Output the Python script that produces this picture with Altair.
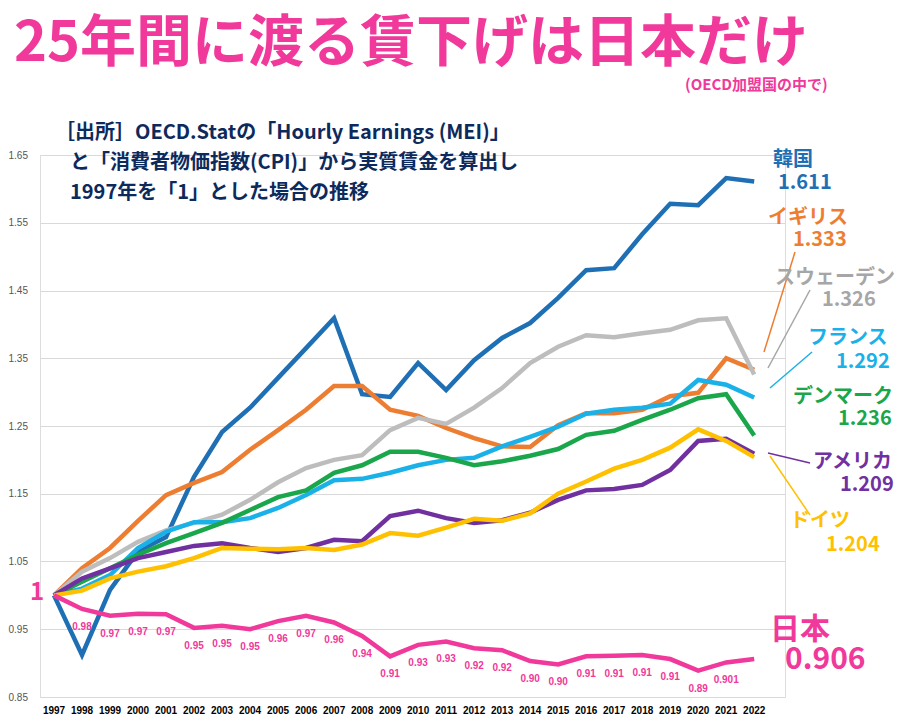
import altair as alt
import pandas as pd

years = list(range(1997, 2023))
korea = [1.0, 0.912, 1.008, 1.065, 1.086, 1.175, 1.241, 1.277, 1.321, 1.365, 1.409, 1.297, 1.293, 1.343,
         1.303, 1.347, 1.38, 1.402, 1.439, 1.48, 1.483, 1.533, 1.578, 1.576, 1.616, 1.611]
uk = [1.0, 1.04, 1.07, 1.11, 1.148, 1.166, 1.182, 1.215, 1.244, 1.274, 1.309, 1.309, 1.274, 1.265,
      1.247, 1.232, 1.22, 1.219, 1.251, 1.269, 1.269, 1.274, 1.294, 1.299, 1.35, 1.333]
sweden = [1.0, 1.035, 1.055, 1.079, 1.096, 1.107, 1.119, 1.141, 1.167, 1.188, 1.2, 1.207, 1.244, 1.262,
          1.253, 1.277, 1.306, 1.343, 1.367, 1.384, 1.381, 1.387, 1.392, 1.406, 1.409, 1.326]
france = [1.0, 1.01, 1.03, 1.07, 1.094, 1.108, 1.108, 1.114, 1.129, 1.148, 1.17, 1.172, 1.181, 1.192,
          1.2, 1.203, 1.22, 1.234, 1.249, 1.268, 1.274, 1.277, 1.283, 1.318, 1.311, 1.292]
denmark = [1.0, 1.02, 1.04, 1.06, 1.077, 1.092, 1.107, 1.126, 1.145, 1.155, 1.181, 1.192, 1.212, 1.212,
           1.203, 1.192, 1.198, 1.206, 1.216, 1.237, 1.243, 1.259, 1.274, 1.291, 1.297, 1.236]
usa = [1.0, 1.025, 1.04, 1.055, 1.064, 1.073, 1.077, 1.07, 1.064, 1.07, 1.082, 1.08, 1.117, 1.125,
       1.114, 1.107, 1.111, 1.122, 1.141, 1.155, 1.157, 1.163, 1.185, 1.228, 1.231, 1.209]
germany = [1.0, 1.007, 1.025, 1.035, 1.043, 1.055, 1.07, 1.069, 1.068, 1.07, 1.067, 1.075, 1.092, 1.088,
           1.1, 1.113, 1.11, 1.121, 1.15, 1.168, 1.187, 1.2, 1.218, 1.245, 1.228, 1.204]
japan = [1.0, 0.98, 0.97, 0.973, 0.972, 0.952, 0.955, 0.95, 0.962, 0.97, 0.96, 0.94, 0.91, 0.927,
         0.932, 0.922, 0.919, 0.903, 0.898, 0.91, 0.911, 0.912, 0.906, 0.889, 0.901, 0.906]
japan_labels = ["", "0.98", "0.97", "0.97", "0.97", "0.95", "0.95", "0.95", "0.96", "0.97", "0.96", "0.94",
                "0.91", "0.93", "0.93", "0.92", "0.92", "0.90", "0.90", "0.91", "0.91", "0.91", "0.91",
                "0.89", "0.901", ""]

series = ["韓国", "イギリス", "スウェーデン", "フランス", "デンマーク", "アメリカ", "ドイツ", "日本"]
colors = ["#1f6fb5", "#ed7d31", "#bdbdbd", "#1ab0e8", "#1aa64b", "#7030a0", "#ffc000", "#f0399a"]
values = [korea, uk, sweden, france, denmark, usa, germany, japan]

rows = []
for name, vals in zip(series, values):
    for y, v in zip(years, vals):
        rows.append({"year": y, "value": v, "country": name})
df = pd.DataFrame(rows)
jp = pd.DataFrame({"year": years, "value": japan, "label": japan_labels})
yr = pd.DataFrame({"year": years, "label": [str(y) for y in years]})

# right-side annotations (page pixel positions)
ann_text = ["韓国", "1.611", "イギリス", "1.333", "スウェーデン", "1.326", "フランス", "1.292",
            "デンマーク", "1.236", "アメリカ", "1.209", "ドイツ", "1.204"]
ann_x = [773, 778, 768, 793, 775, 822, 808, 836, 793, 838, 813, 840, 790, 826]
ann_y = [160, 183, 218, 240, 278, 300, 338, 362, 397, 419, 462, 485, 521, 545]
ann_col = ["#1f6fb5", "#1f6fb5", "#ed7d31", "#ed7d31", "#a6a6a6", "#a6a6a6", "#1ab0e8", "#1ab0e8",
           "#1aa64b", "#1aa64b", "#7030a0", "#7030a0", "#ffc000", "#ffc000"]
OX, OY = 40, 155
ann = pd.DataFrame({"t": ann_text, "x": [a - OX for a in ann_x], "y": [b - OY for b in ann_y], "c": ann_col})

lead_x = [764, 768, 770, 768, 770]
lead_y = [352, 368, 388, 453, 456]
lead_x2 = [795, 810, 812, 810, 810]
lead_y2 = [252, 290, 352, 463, 515]
lead_c = ["#ed7d31", "#a6a6a6", "#1ab0e8", "#7030a0", "#ffc000"]
leads = pd.DataFrame({"x": [a - OX for a in lead_x], "y": [b - OY for b in lead_y],
                      "x2": [a - OX for a in lead_x2], "y2": [b - OY for b in lead_y2], "c": lead_c})

W, H = 745, 542
xs = alt.X("year:Q", scale=alt.Scale(domain=[1996.5, 2023.1], nice=False), axis=None)
ys = alt.Y("value:Q", scale=alt.Scale(domain=[0.85, 1.65], nice=False),
           axis=alt.Axis(values=[0.85, 0.95, 1.05, 1.15, 1.25, 1.35, 1.45, 1.55, 1.65], format=".2f",
                         title=None, domain=False, ticks=False, gridColor="#d9d9d9", labelColor="#555",
                         labelFontSize=10, labelAlign="left", labelPadding=32, labelFont="Liberation Sans"))

lines = alt.Chart(df).mark_line(strokeWidth=4.5).encode(
    x=xs, y=ys,
    color=alt.Color("country:N", scale=alt.Scale(domain=series, range=colors), legend=None),
    order=alt.Order("year:Q"),
)

year_text = alt.Chart(yr).mark_text(fontSize=10, fontWeight="bold", color="#000", font="Liberation Sans",
                                    baseline="middle").encode(
    x="year:Q", y=alt.value(H + 14), text="label:N")

jp_text = alt.Chart(jp).mark_text(dy=18, fontSize=10, fontWeight="bold", color="#f0399a",
                                  font="Liberation Sans").encode(
    x="year:Q", y="value:Q", text="label:N")

ann_layer = alt.Chart(ann).mark_text(align="left", baseline="middle", fontSize=20, fontWeight="bold",
                                     font="Noto Sans CJK JP").encode(
    x=alt.X("x:Q", scale=None), y=alt.Y("y:Q", scale=None), text="t:N",
    color=alt.Color("c:N", scale=None))

lead_layer = alt.Chart(leads).mark_rule(strokeWidth=1.5).encode(
    x=alt.X("x:Q", scale=None), y=alt.Y("y:Q", scale=None),
    x2="x2:Q", y2="y2:Q", color=alt.Color("c:N", scale=None))

big = pd.DataFrame({"t": ["日本", "0.906", "1"], "x": [770 - OX, 785 - OX, 30 - OX],
                    "y": [630 - OY, 660 - OY, 593 - OY], "s": [30, 30, 24]})
big_layer = alt.Chart(big).mark_text(align="left", baseline="middle", fontWeight="bold", color="#f0399a",
                                     font="Noto Sans CJK JP").encode(
    x=alt.X("x:Q", scale=None), y=alt.Y("y:Q", scale=None), text="t:N",
    size=alt.Size("s:Q", scale=None, legend=None))

head = pd.DataFrame({"t": ["25年間に渡る賃下げは日本だけ", "(OECD加盟国の中で)",
                           "［出所］OECD.Statの「Hourly Earnings (MEI)」",
                           "と「消費者物価指数(CPI)」から実質賃金を算出し",
                           "1997年を「1」とした場合の推移"],
                     "x": [14 - OX, 685 - OX, 55 - OX, 70 - OX, 70 - OX],
                     "y": [44 - OY, 85 - OY, 133 - OY, 163 - OY, 193 - OY],
                     "s": [56, 15, 20, 20, 20],
                     "c": ["#f0399a", "#f0399a", "#0d2a5c", "#0d2a5c", "#0d2a5c"]})
head_layer = alt.Chart(head).mark_text(align="left", baseline="middle", fontWeight="bold",
                                       font="Noto Sans CJK JP").encode(
    x=alt.X("x:Q", scale=None), y=alt.Y("y:Q", scale=None), text="t:N",
    size=alt.Size("s:Q", scale=None, legend=None), color=alt.Color("c:N", scale=None))

chart = (lines + jp_text + year_text + lead_layer + ann_layer + big_layer + head_layer).properties(
    width=W, height=H,
    autosize=alt.AutoSizeParams(type="none"),
    padding={"left": 32, "top": 147, "right": 123, "bottom": 20},
).configure_view(stroke=None).configure(background="white")

chart.save("out.html", embed_options={"renderer": "svg", "actions": False})
